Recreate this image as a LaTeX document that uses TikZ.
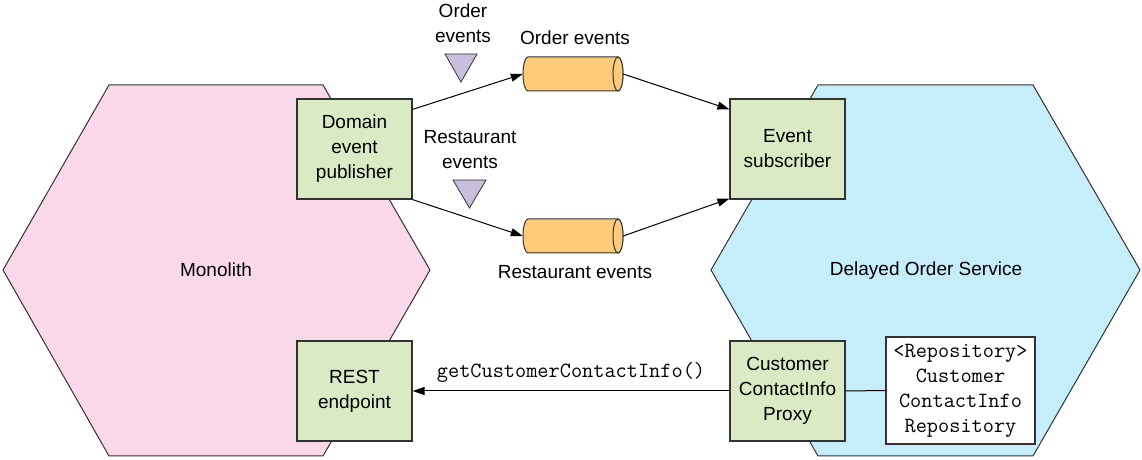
\documentclass[tikz,border=0pt]{standalone}
\usepackage{fontspec}
\setmainfont{Liberation Sans}
\usetikzlibrary{arrows.meta,calc}
\definecolor{monopink}{RGB}{250,215,233}
\definecolor{svcblue}{RGB}{198,237,250}
\definecolor{boxgreen}{RGB}{217,234,196}
\definecolor{cylorange}{RGB}{253,203,122}
\definecolor{trilav}{RGB}{202,190,222}
\definecolor{linegray}{RGB}{50,50,50}
\begin{document}
\begin{tikzpicture}[x=1pt,y=1pt,
  font=\fontsize{19}{25}\selectfont,
  monofont/.style={font=\fontsize{21.7}{25}\selectfont\ttfamily},
  hexa/.style={draw=linegray, line width=1pt},
  box/.style={draw=linegray, line width=1.2pt, fill=boxgreen, minimum width=115pt, minimum height=100pt, align=center, inner sep=0pt},
  repobox/.style={draw=linegray, line width=1.2pt, fill=white, minimum width=149pt, minimum height=107pt, align=center, inner sep=0pt, monofont},
  cylslot/.style={minimum width=100pt, minimum height=34pt, inner sep=0pt},
  cylbody/.style={draw=linegray, line width=1pt, fill=cylorange},
  tri/.style={draw=linegray, line width=0.8pt, fill=trilav},
  lbl/.style={align=center, inner sep=0pt},
  arr/.style={-{Triangle[length=12pt,width=8pt]}, line width=1pt, draw=black},
  plain/.style={line width=1pt, draw=black}]
\useasboundingbox (0,0) rectangle (1142,460);

% hexagons
\draw[hexa, fill=monopink] (109,375) -- (323,375) -- (430,190) -- (323,4) -- (109,4) -- (3,190) -- cycle;
\draw[hexa, fill=svcblue] (818,375) -- (1033,375) -- (1140,190) -- (1033,4) -- (818,4) -- (711,190) -- cycle;
\node[lbl] (monolbl) at (216,190) {Monolith};
\node[lbl] (svclbl) at (926,189) {Delayed Order Service};

% boxes
\node[box] (pub) at (354.5,311) {Domain\\event\\publisher};
\node[box] (rest) at (354.5,69) {REST\\endpoint};
\node[box] (sub) at (787.5,311) {Event\\subscriber};
\node[box] (proxy) at (787.5,69) {Customer\\ContactInfo\\Proxy};
\node[repobox] (repo) at (960.5,69.5) {<Repository>\\Customer\\ContactInfo\\Repository};

% cylinders
\node[cylslot] (c1) at (573,386) {};
\node[cylslot] (c2) at (573,224) {};
\foreach \c in {c1,c2}{
  \begin{scope}[shift={(\c.center)}]
    \draw[cylbody] (-45,17) -- (45,17) arc[start angle=90, end angle=-90, x radius=5, y radius=17]
      -- (-45,-17) arc[start angle=270, end angle=90, x radius=5, y radius=17] -- cycle;
    \draw[cylbody] (45,0) ellipse[x radius=5, y radius=17];
  \end{scope}
}
\node[lbl] (c1lbl) at (575,422) {Order events};
\node[lbl] (c2lbl) at (575,188) {Restaurant events};

% triangles and their labels
\draw[tri] (445,406) -- (477,406) -- (461,378) -- cycle;
\draw[tri] (453,280) -- (486,280) -- (469.5,252) -- cycle;
\node[lbl] (t1lbl) at (463,437) {Order\\events};
\node[lbl] (t2lbl) at (470,310) {Restaurant\\events};

% connectors
\coordinate (pubA) at ($(pub.north east)+(0,-11)$);
\coordinate (pubB) at ($(pub.south east)+(0,0)$);
\coordinate (subA) at ($(sub.north west)+(0,-11)$);
\coordinate (subB) at ($(sub.south west)+(0,1)$);
\draw[arr] (pubA) -- (c1.west);
\draw[arr] (pubB) -- (c2.west);
\draw[arr] (c1.east) -- (subA);
\draw[arr] (c2.east) -- (subB);
\draw[arr] (proxy.west) -- node[above=8pt, monofont, inner sep=0pt] (getlbl) {getCustomerContactInfo()} (rest.east);
\draw[plain] (proxy.east) -- (repo.west);
\end{tikzpicture}
\end{document}
